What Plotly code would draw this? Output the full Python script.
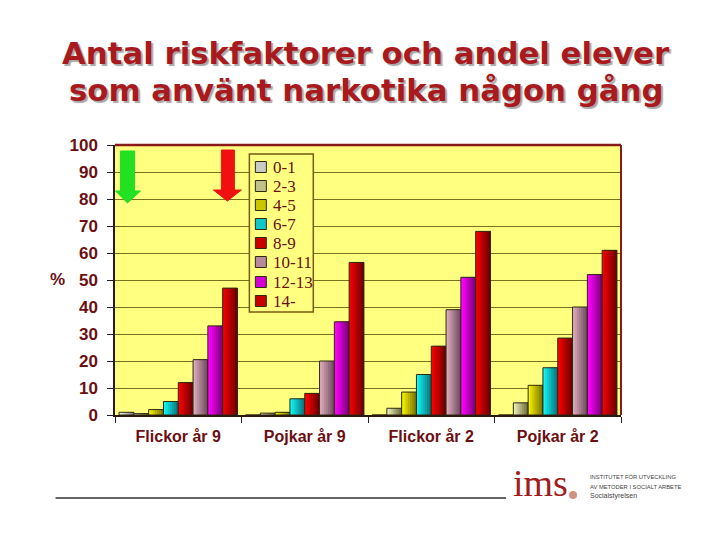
import plotly.graph_objects as go

categories = ["Flickor år 9", "Pojkar år 9", "Flickor år 2", "Pojkar år 2"]
series_names = ["0-1", "2-3", "4-5", "6-7", "8-9", "10-11", "12-13", "14-"]
v_0_1 = [1, 0, 0, 0]
v_2_3 = [0.5, 0.7, 2.5, 4.5]
v_4_5 = [2, 1, 8.5, 11]
v_6_7 = [5, 6, 15, 17.5]
v_8_9 = [12, 8, 25.5, 28.5]
v_10_11 = [20.5, 20, 39, 40]
v_12_13 = [33, 34.5, 51, 52]
v_14 = [47, 56.5, 68, 61]
series_values = [v_0_1, v_2_3, v_4_5, v_6_7, v_8_9, v_10_11, v_12_13, v_14]
colors_left = ["#f4f4f0", "#ececb8", "#f4f000", "#10f4f4", "#fa0000", "#dcaabc", "#ff00ff", "#f40000"]
colors_right = ["#808078", "#707040", "#807800", "#087880", "#700000", "#705060", "#800080", "#700000"]

# The page has an 8px body margin, so the figure is drawn 8px in from the corner.
PAGE = 8
W, H = 720, 540
L, R, T, B = 114.5, 621, 145, 415
DARK = "#6b0f12"
BAR_W = 0.117
GROUP_START = -0.468
STRIPS = 7


def to_plot_x(x):
    return (x - L) / (R - L)


def to_plot_y(y):
    return (B - y) / (B - T)


def mix(c1, c2, t):
    a = [int(c1[i:i + 2], 16) for i in (1, 3, 5)]
    b = [int(c2[i:i + 2], 16) for i in (1, 3, 5)]
    return "#" + "".join(f"{round(p + (q - p) * t):02x}" for p, q in zip(a, b))


fig = go.Figure()
for k, (n, v, cl, cr) in enumerate(zip(series_names, series_values, colors_left, colors_right)):
    start = GROUP_START + k * BAR_W
    for s in range(STRIPS):
        frac = s / STRIPS
        fig.add_bar(x=categories, y=v, name=n, showlegend=False, hoverinfo="skip",
                    width=BAR_W * (1 - frac), offset=start + BAR_W * frac,
                    marker=dict(color=mix(cl, cr, s / (STRIPS - 1)), line=dict(width=0)))
    fig.add_bar(x=categories, y=v, name=n, showlegend=False, width=BAR_W, offset=start,
                marker=dict(color="rgba(0,0,0,0)", line=dict(color="#2e2a10", width=1)))


def arrow(x0, x1, xa, xb, y0, y1, tipx, tipy, col):
    pts = [(x0, y0), (x1, y0), (x1, y1), (xb, y1), (tipx, tipy), (xa, y1), (x0, y1)]
    d = "M" + " L".join(f"{to_plot_x(a):.5f},{to_plot_y(b):.5f}" for a, b in pts) + " Z"
    return dict(type="path", xref="paper", yref="paper", path=d, fillcolor=col,
                line=dict(color=col, width=1), layer="above")


def rect(x0, y0, x1, y1, fill, line, width=1):
    return dict(type="rect", xref="paper", yref="paper", x0=to_plot_x(x0), x1=to_plot_x(x1),
                y0=to_plot_y(y0), y1=to_plot_y(y1), fillcolor=fill,
                line=dict(color=line, width=width), layer="above")


def hline(x0, x1, y, color, width):
    return dict(type="line", xref="paper", yref="paper", x0=to_plot_x(x0), x1=to_plot_x(x1),
                y0=to_plot_y(y), y1=to_plot_y(y), line=dict(color=color, width=width))


def ann(text, x, y, size, color, family, bold=False, xanchor="center", shadow=None):
    f = dict(size=size, color=color, family=family)
    if shadow:
        f["shadow"] = shadow
    return dict(text=f"<b>{text}</b>" if bold else text, xref="paper", yref="paper",
                x=to_plot_x(x), y=to_plot_y(y), xanchor=xanchor, yanchor="middle",
                showarrow=False, font=f)


shapes = [
    arrow(120, 134, 115, 140, 151, 191, 127, 203, "#22e022"),
    arrow(221, 234, 213, 241, 150, 190, 227, 201, "#f01010"),
    hline(55, 506, 498, "#333333", 1.5),
    rect(249, 154, 313, 312, "#ffff80", "#7a5a10", 1.5),
    hline(114.5, 621, 145, "#8a1a1a", 2.5),
    dict(type="line", xref="paper", yref="paper", x0=1, x1=1, y0=0, y1=1,
         line=dict(color="#8a1a1a", width=2)),
    dict(type="circle", xref="paper", yref="paper", x0=to_plot_x(569), x1=to_plot_x(577),
         y0=to_plot_y(499), y1=to_plot_y(491), fillcolor="#d49080", line=dict(width=0)),
]

TF = "DejaVu Sans"
SHADOW = "2px 2px 1px #a8a8a8"
annotations = [
    ann("Antal riskfaktorer och andel elever", 366, 53, 30.8, "#a81a1e", TF, True, shadow=SHADOW),
    ann("som använt narkotika någon gång", 366, 90, 30.8, "#a81a1e", TF, True, shadow=SHADOW),
    ann("%", 57, 279, 17, DARK, "Liberation Sans", True),
    ann("ims", 511, 482.5, 38, "#a01c20", "Liberation Serif", xanchor="left"),
    ann("INSTITUTET FÖR UTVECKLING", 588, 477, 5.8, "#444444", "Liberation Sans", xanchor="left"),
    ann("AV METODER I SOCIALT ARBETE", 588, 487, 5.8, "#444444", "Liberation Sans", xanchor="left"),
    ann("Socialstyrelsen", 588, 496, 7, "#444444", "Liberation Sans", xanchor="left"),
]

legend_rows = [167, 186, 205, 224, 243, 262, 282, 301]
for n, cl, cr, y in zip(series_names, colors_left, colors_right, legend_rows):
    shapes.append(rect(255, y - 5.5, 266, y + 5.5, mix(cl, cr, 0.35), "#2e2a10", 1))
    annotations.append(ann(n, 271, y, 17, DARK, "Liberation Serif", xanchor="left"))

tick_font = dict(family="Liberation Sans", size=17, color=DARK, weight="bold")
fig.update_layout(
    width=W - PAGE, height=H - PAGE, autosize=False,
    margin=dict(l=L - PAGE, r=W - R, t=T - PAGE, b=H - B, pad=0),
    paper_bgcolor="white", plot_bgcolor="#ffff80",
    barmode="overlay", showlegend=False,
    shapes=shapes, annotations=annotations,
    xaxis=dict(type="category", tickson="boundaries", ticks="outside", ticklen=6, tickcolor="#222222",
               tickfont=dict(family="Liberation Sans", size=16, color=DARK, weight="bold"),
               ticklabelstandoff=6, showgrid=False, showline=True, linecolor="#2a1a10", linewidth=1.5),
    yaxis=dict(range=[0, 100], dtick=10, ticks="outside", ticklen=6, tickcolor="#222222",
               tickfont=tick_font, ticklabelstandoff=6,
               showgrid=True, gridcolor="#77721e", gridwidth=1, zeroline=False,
               showline=True, linecolor="#2a1a10", linewidth=1.5),
)

fig.write_html("out.html")
